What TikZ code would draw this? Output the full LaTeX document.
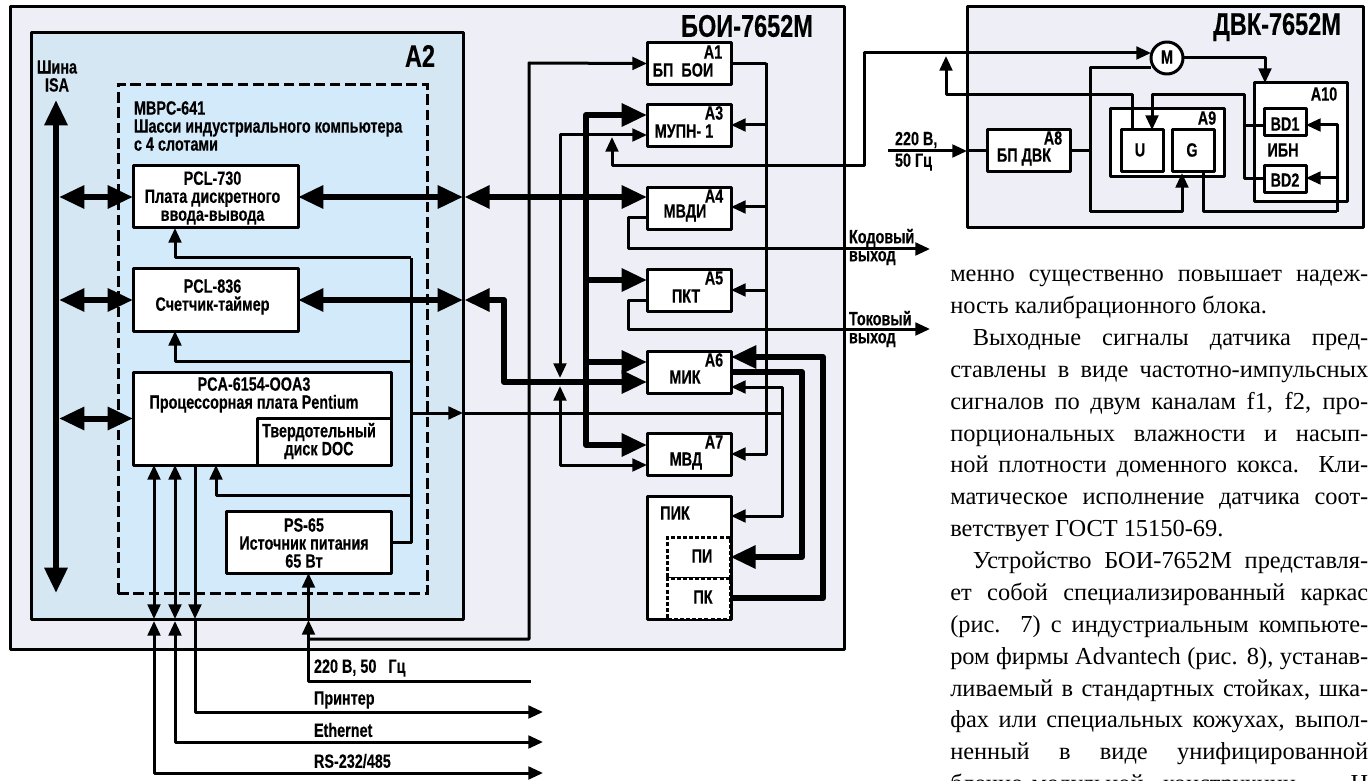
\documentclass[tikz,border=0pt]{standalone}
\usepackage{fontspec}
\setmainfont{Liberation Sans}
\newfontfamily\lblfont[FakeStretch=0.75,FakeBold=0.25]{Liberation Sans}
\newfontfamily\bodyfont{Liberation Serif}
\usetikzlibrary{positioning,arrows.meta}
\definecolor{boiback}{HTML}{EEEEF7}
\definecolor{aback}{HTML}{D5E7F3}
\definecolor{chassisback}{HTML}{D2EAFA}
\tikzset{
    lbl/.style={font=\lblfont\bfseries\fontsize{14.4pt}{13.5pt}\selectfont, inner sep=0, outer sep=0, align=center},
    biglbl/.style={font=\lblfont\bfseries\fontsize{23.5pt}{23.5pt}\selectfont, inner sep=0, outer sep=0},
    frame/.style={draw, line width=2.25pt, inner sep=0, outer sep=0, line join=round},
    unit/.style={frame, fill=white},
    modbox/.style={unit, minimum width=63pt, minimum height=31.5pt},
    dashbox/.style={unit, dash pattern=on 3pt off 1.6pt, line join=miter},
    wire/.style={line width=2.25pt, line join=round},
    bus/.style={line width=4.5pt, line join=round},
    tinhead/.tip={Triangle[length=11pt, width=9.5pt]},
    bighead/.tip={Triangle[length=19pt, width=16.5pt]}
}
\begin{document}
\begin{tikzpicture}[x=0.75pt, y=-0.75pt]
    \useasboundingbox (0,0) rectangle (1368,781);

    % Frames
    \node[frame, fill=boiback, minimum width=625.5pt, minimum height=481.5pt] (boi) at (427,328) {};
    \node[frame, fill=aback, minimum width=324pt, minimum height=439.5pt] (atwo) at (247,326) {};
    \node[frame, fill=chassisback, dash pattern=on 8pt off 3.5pt, line join=miter, minimum width=231.75pt, minimum height=381.75pt] (chassis) at (272.5,339) {};
    \node[frame, fill=boiback, minimum width=297pt, minimum height=165.75pt] (dvk) at (1165,117.5) {};
    \node[biglbl] (boiname) at (747,26) {БОИ-7652М};
    \node[biglbl] (dvkname) at (1277,27) {ДВК-7652М};
    \node[biglbl] (atwoname) at (420,56) {A2};
    \node[lbl] (isaname) at (57,76) {Шина\\ISA};
    \node[lbl, align=left, anchor=west] (chassisname) at (134,126) {MBPC-641\\Шасси индустриального компьютера\\с 4 слотами};

    % Boards inside the chassis
    \node[unit, minimum width=123.75pt, minimum height=46.5pt] (pcl730) at (215.5,197) {};
    \node[lbl] (pcl730name) at (212.5,198) {PCL-730\\Плата дискретного\\ввода-вывода};
    \node[unit, minimum width=123.75pt, minimum height=46.5pt] (pcl836) at (215.5,300) {};
    \node[lbl] (pcl836name) at (212.5,297) {PCL-836\\Счетчик-таймер};
    \node[unit, minimum width=193.5pt, minimum height=69.75pt] (pca) at (262,418.5) {};
    \node[lbl] (pcaname) at (254,395) {PCA-6154-OOA3\\Процессорная плата Pentium};
    \node[unit, minimum width=100.5pt, minimum height=35.25pt] (doc) at (324,441.5) {};
    \node[lbl] (docname) at (319,441) {Твердотельный\\диск DOC};
    \node[unit, minimum width=123.75pt, minimum height=46.5pt] (ps65) at (308.5,542) {};
    \node[lbl] (ps65name) at (304,543) {PS-65\\Источник питания\\65 Вт};

    % Modules of the right column
    \node[modbox] (aone) at (689,63.5) {};
    \node[modbox, below=15pt of aone] (athree) {};
    \node[modbox, below=30.5pt of athree] (afour) {};
    \node[modbox, below=30.5pt of afour] (afive) {};
    \node[modbox, below=30pt of afive] (asix) {};
    \node[modbox, below=30pt of asix] (aseven) {};
    \node[unit, minimum width=63pt, minimum height=92.25pt] (pik) at (689,557.5) {};
    \node[dashbox, minimum width=47pt, minimum height=30.75pt] (pi) at (699,557.5) {};
    \node[dashbox, minimum width=47pt, minimum height=30.75pt] (pk) at (699,598.5) {};
    \node[lbl] (aonetag) at (713,52) {A1};
    \node[lbl] (athreetag) at (714,113) {A3};
    \node[lbl] (afourtag) at (714,196) {A4};
    \node[lbl] (afivetag) at (714,278) {A5};
    \node[lbl] (asixtag) at (714,360) {A6};
    \node[lbl] (aseventag) at (714,442) {A7};
    \node[lbl] (aonename) at (683,70) {БП\ \ БОИ};
    \node[lbl] (athreename) at (684,131) {МУПН- 1};
    \node[lbl] (afourname) at (685,213) {МВДИ};
    \node[lbl] (afivename) at (686,296) {ПКТ};
    \node[lbl] (asixname) at (685,377) {МИК};
    \node[lbl] (asevenname) at (686,461) {МВД};
    \node[lbl] (pikname) at (675,513) {ПИК};
    \node[lbl] (piname) at (702,556) {ПИ};
    \node[lbl] (pkname) at (703,597) {ПК};

    % ДВК-7652М
    \node[unit, minimum width=62.25pt, minimum height=31.5pt] (aeight) at (1028.5,151) {};
    \node[lbl] (aeighttag) at (1053,138) {A8};
    \node[lbl] (aeightname) at (1024,157) {БП ДВК};
    \node[unit, minimum width=85.5pt, minimum height=51pt] (anine) at (1167,143) {};
    \node[lbl] (aninetag) at (1207,118) {A9};
    \node[unit, minimum width=31.5pt, minimum height=31.5pt] (uunit) at (1142,151) {};
    \node[lbl] at (1140,150) (uname) {U};
    \node[unit, minimum width=31.5pt, minimum height=31.5pt] (gunit) at (1193,151) {};
    \node[lbl] at (1192,150) (gname) {G};
    \node[unit, minimum width=69.75pt, minimum height=89.25pt] (aten) at (1300.5,142.5) {};
    \node[lbl] (atentag) at (1324,94) {A10};
    \node[unit, minimum width=31.5pt, minimum height=20.25pt] (bdone) at (1285,122.5) {};
    \node[lbl] (bdonename) at (1285,124) {BD1};
    \node[unit, minimum width=31.5pt, minimum height=20.25pt] (bdtwo) at (1285,179) {};
    \node[lbl] (bdtwoname) at (1285,180) {BD2};
    \node[lbl] (ibnname) at (1283,150) {ИБН};
    \node[frame, fill=white, circle, minimum size=24pt] (motor) at (1167,58) {};
    \node[lbl] (motorname) at (1167,57) {M};

    % Outside labels
    \node[lbl, align=left, anchor=west] (koutname) at (849,247) {Кодовый\\выход};
    \node[lbl, align=left, anchor=west] (toutname) at (849,329) {Токовый\\выход};
    \node[lbl, anchor=west] (mainsname) at (314,668) {220 В, 50\ \ \ Гц};
    \node[lbl, anchor=west] (printername) at (314,700) {Принтер};
    \node[lbl, anchor=west] (ethername) at (314,730) {Ethernet};
    \node[lbl, anchor=west] (rsname) at (314,761) {RS-232/485};
    \node[lbl, anchor=west] (dvkmainsa) at (895,140) {220 В,};
    \node[lbl, anchor=west] (dvkmainsb) at (895,162) {50 Гц};

    % Free ends and branch points
    \coordinate (bustop) at (56,100);
    \coordinate (busbot) at (56,593);
    \coordinate (trunk) at (586,115);
    \coordinate (psrail) at (411,258);
    \coordinate (suprail) at (766,63);
    \coordinate (calrail) at (560,135);
    \coordinate (sigrail) at (782,387);
    \coordinate (printerend) at (543,712);
    \coordinate (etherend) at (543,742);
    \coordinate (rsend) at (543,773);
    \coordinate (mainsend) at (531,681);
    \coordinate (koutend) at (930,249);
    \coordinate (toutend) at (930,329);
    \coordinate (dvkin) at (888,151);

    % Thick buses
    \draw[bus, bighead-bighead] (bustop) -- (busbot);
    \foreach \board in {pcl730, pcl836, pca} {
        \draw[bus, bighead-bighead] ([xshift=2.25pt]\board.west -| bustop) -- (\board.west);
    }
    \draw[bus, bighead-bighead] (pcl730.east) -- (atwo.east |- pcl730.east);
    \draw[bus, bighead-bighead] ([xshift=1pt]atwo.east |- pcl730.east) -- (afour.west |- pcl730.east);
    \draw[bus, bighead-bighead] (pcl836.east) -- (atwo.east |- pcl836.east);
    \draw[bus, bighead-bighead] ([xshift=1pt]atwo.east |- pcl836.east) -| (504,382) -- (asix.west |- 504,382);
    \draw[bus, line cap=round] (trunk) -- (trunk |- 0,445);
    \draw[bus, -bighead] (trunk) -- (athree.west |- trunk);
    \draw[bus, -bighead] (trunk |- 0,280) -- (afive.west |- 0,280);
    \draw[bus, -bighead] (trunk |- 0,362) -- (asix.west |- 0,362);
    \draw[bus, -bighead] (trunk |- 0,445) -- (aseven.west |- 0,445);
    \draw[bus, bighead-] (asix.east |- 0,357) -| (823,598) -- (pk.east |- 0,598);
    \draw[bus, -bighead] (asix.east |- 0,372) -| (802,557) -- (pi.east |- 0,557);

    % Power and signal wires of the computer
    \draw[wire] (ps65.east) -| (psrail);
    \draw[wire, -tinhead] (psrail) -| (pcl730.south -| 175,0);
    \draw[wire, -tinhead] (psrail |- 0,361) -| (pcl836.south -| 175,0);
    \draw[wire, -tinhead] (psrail |- 0,495) -| (pca.south -| 216,0);
    \draw[wire, -tinhead] (psrail |- 0,413) -- (atwo.east |- 0,413);
    \draw[wire] (atwo.east |- 0,413) -- (sigrail |- 0,413);
    \draw[wire, tinhead-tinhead] (asix.east |- sigrail) -- (sigrail) |- (pik.east |- 0,516);

    % Lines leaving the case
    \draw[wire, tinhead-tinhead] (pca.south -| 154,0) -- (atwo.south -| 154,0);
    \draw[wire, tinhead-tinhead] (pca.south -| 175,0) -- (atwo.south -| 175,0);
    \draw[wire, -tinhead] (pca.south -| 195,0) -- (atwo.south -| 195,0);
    \draw[wire, tinhead-tinhead] ([yshift=-1.5pt]atwo.south -| 154,0) |- (rsend);
    \draw[wire, tinhead-tinhead] ([yshift=-1.5pt]atwo.south -| 175,0) |- (etherend);
    \draw[wire, -tinhead] (atwo.south -| 195,0) |- (printerend);
    \draw[wire, tinhead-] (ps65.south) -- (ps65.south |- 0,619);
    \draw[wire, tinhead-] (ps65.south |- 0,620) |- (mainsend);
    \draw[wire, -tinhead] (ps65.south |- 0,639) -| (529,63) -- (aone.west);

    % Supply and control wires of the modules
    \draw[wire] (aone.east) -| (suprail);
    \draw[wire, -tinhead] (suprail) -- (suprail |- 0,454) -- (aseven.east |- 0,454);
    \draw[wire, -tinhead] (suprail |- 0,125) -- (athree.east |- 0,125);
    \draw[wire, -tinhead] (suprail |- 0,207) -- (afour.east |- 0,207);
    \draw[wire, -tinhead] (suprail |- 0,290) -- (afive.east |- 0,290);
    \draw[wire, tinhead-tinhead] (calrail |- 0,378) -- (calrail) -- (athree.west |- calrail);
    \draw[wire, tinhead-tinhead] (calrail |- 0,386) |- (aseven.west |- 0,465);
    \draw[wire, -tinhead] (afour.west |- 0,218) -| (628,249) -- (koutend);
    \draw[wire, -tinhead] (afive.west |- 0,300) -| (628,329) -- (toutend);

    % Links between the cases
    \draw[wire, tinhead-tinhead] (612,137) |- (864,166) |- (motor.west |- 0,53);
    \draw[wire, -tinhead] (dvkin) -- (dvk.west |- dvkin);
    \draw[wire] (dvk.west |- dvkin) -- (aeight.west);
    \draw[wire] (aeight.east) -- (1090,151);
    \draw[wire] (motor.west |- 0,68) -| (1090,212);
    \draw[wire, -tinhead] (1090,212) -| (1182,173);
    \draw[wire, -tinhead] (motor.east) -| (aten.north -| 1265,0);
    \draw[wire, -tinhead] (uunit.north -| 1132,0) |- (946,95) -- (946,56);
    \draw[wire, -tinhead] (bdtwo.west) -| (1244,95) -| (uunit.north -| 1152,0);
    \draw[wire] (1244,126) -- (bdone.west |- 0,126);
    \draw[wire] (gunit.south -| 1203,0) |- (1337,212);
    \draw[wire, -tinhead] (1337,212) |- (bdone.east |- 0,125);
    \draw[wire, -tinhead] (1337,178) -- (bdtwo.east |- 0,178);

    % Column of running text
    \node[anchor=north west, inner sep=0, text width=313.5pt, align=justify, font=\bodyfont\fontsize{18.3pt}{23.9pt}\selectfont] (column) at (950,270) {%
        менно существенно повышает надеж-\linebreak ность калибрационного блока.\par
        \hspace*{17pt}Выходные сигналы датчика пред-\linebreak ставлены в виде частотно-импульсных\linebreak сигналов по двум каналам f1, f2, про-\linebreak порциональных влажности и насып-\linebreak ной плотности доменного кокса. Кли-\linebreak матическое исполнение датчика соот-\linebreak ветствует ГОСТ 15150-69.\par
        \hspace*{17pt}Устройство БОИ-7652М представля-\linebreak ет собой специализированный каркас\linebreak (рис. 7) с индустриальным компьюте-\linebreak ром фирмы Advantech (рис. 8), устанав-\linebreak ливаемый в стандартных стойках, шка-\linebreak фах или специальных кожухах, выпол-\linebreak ненный в виде унифицированной\linebreak блочно-модульной конструкции. Н\linebreak};
\end{tikzpicture}
\end{document}
